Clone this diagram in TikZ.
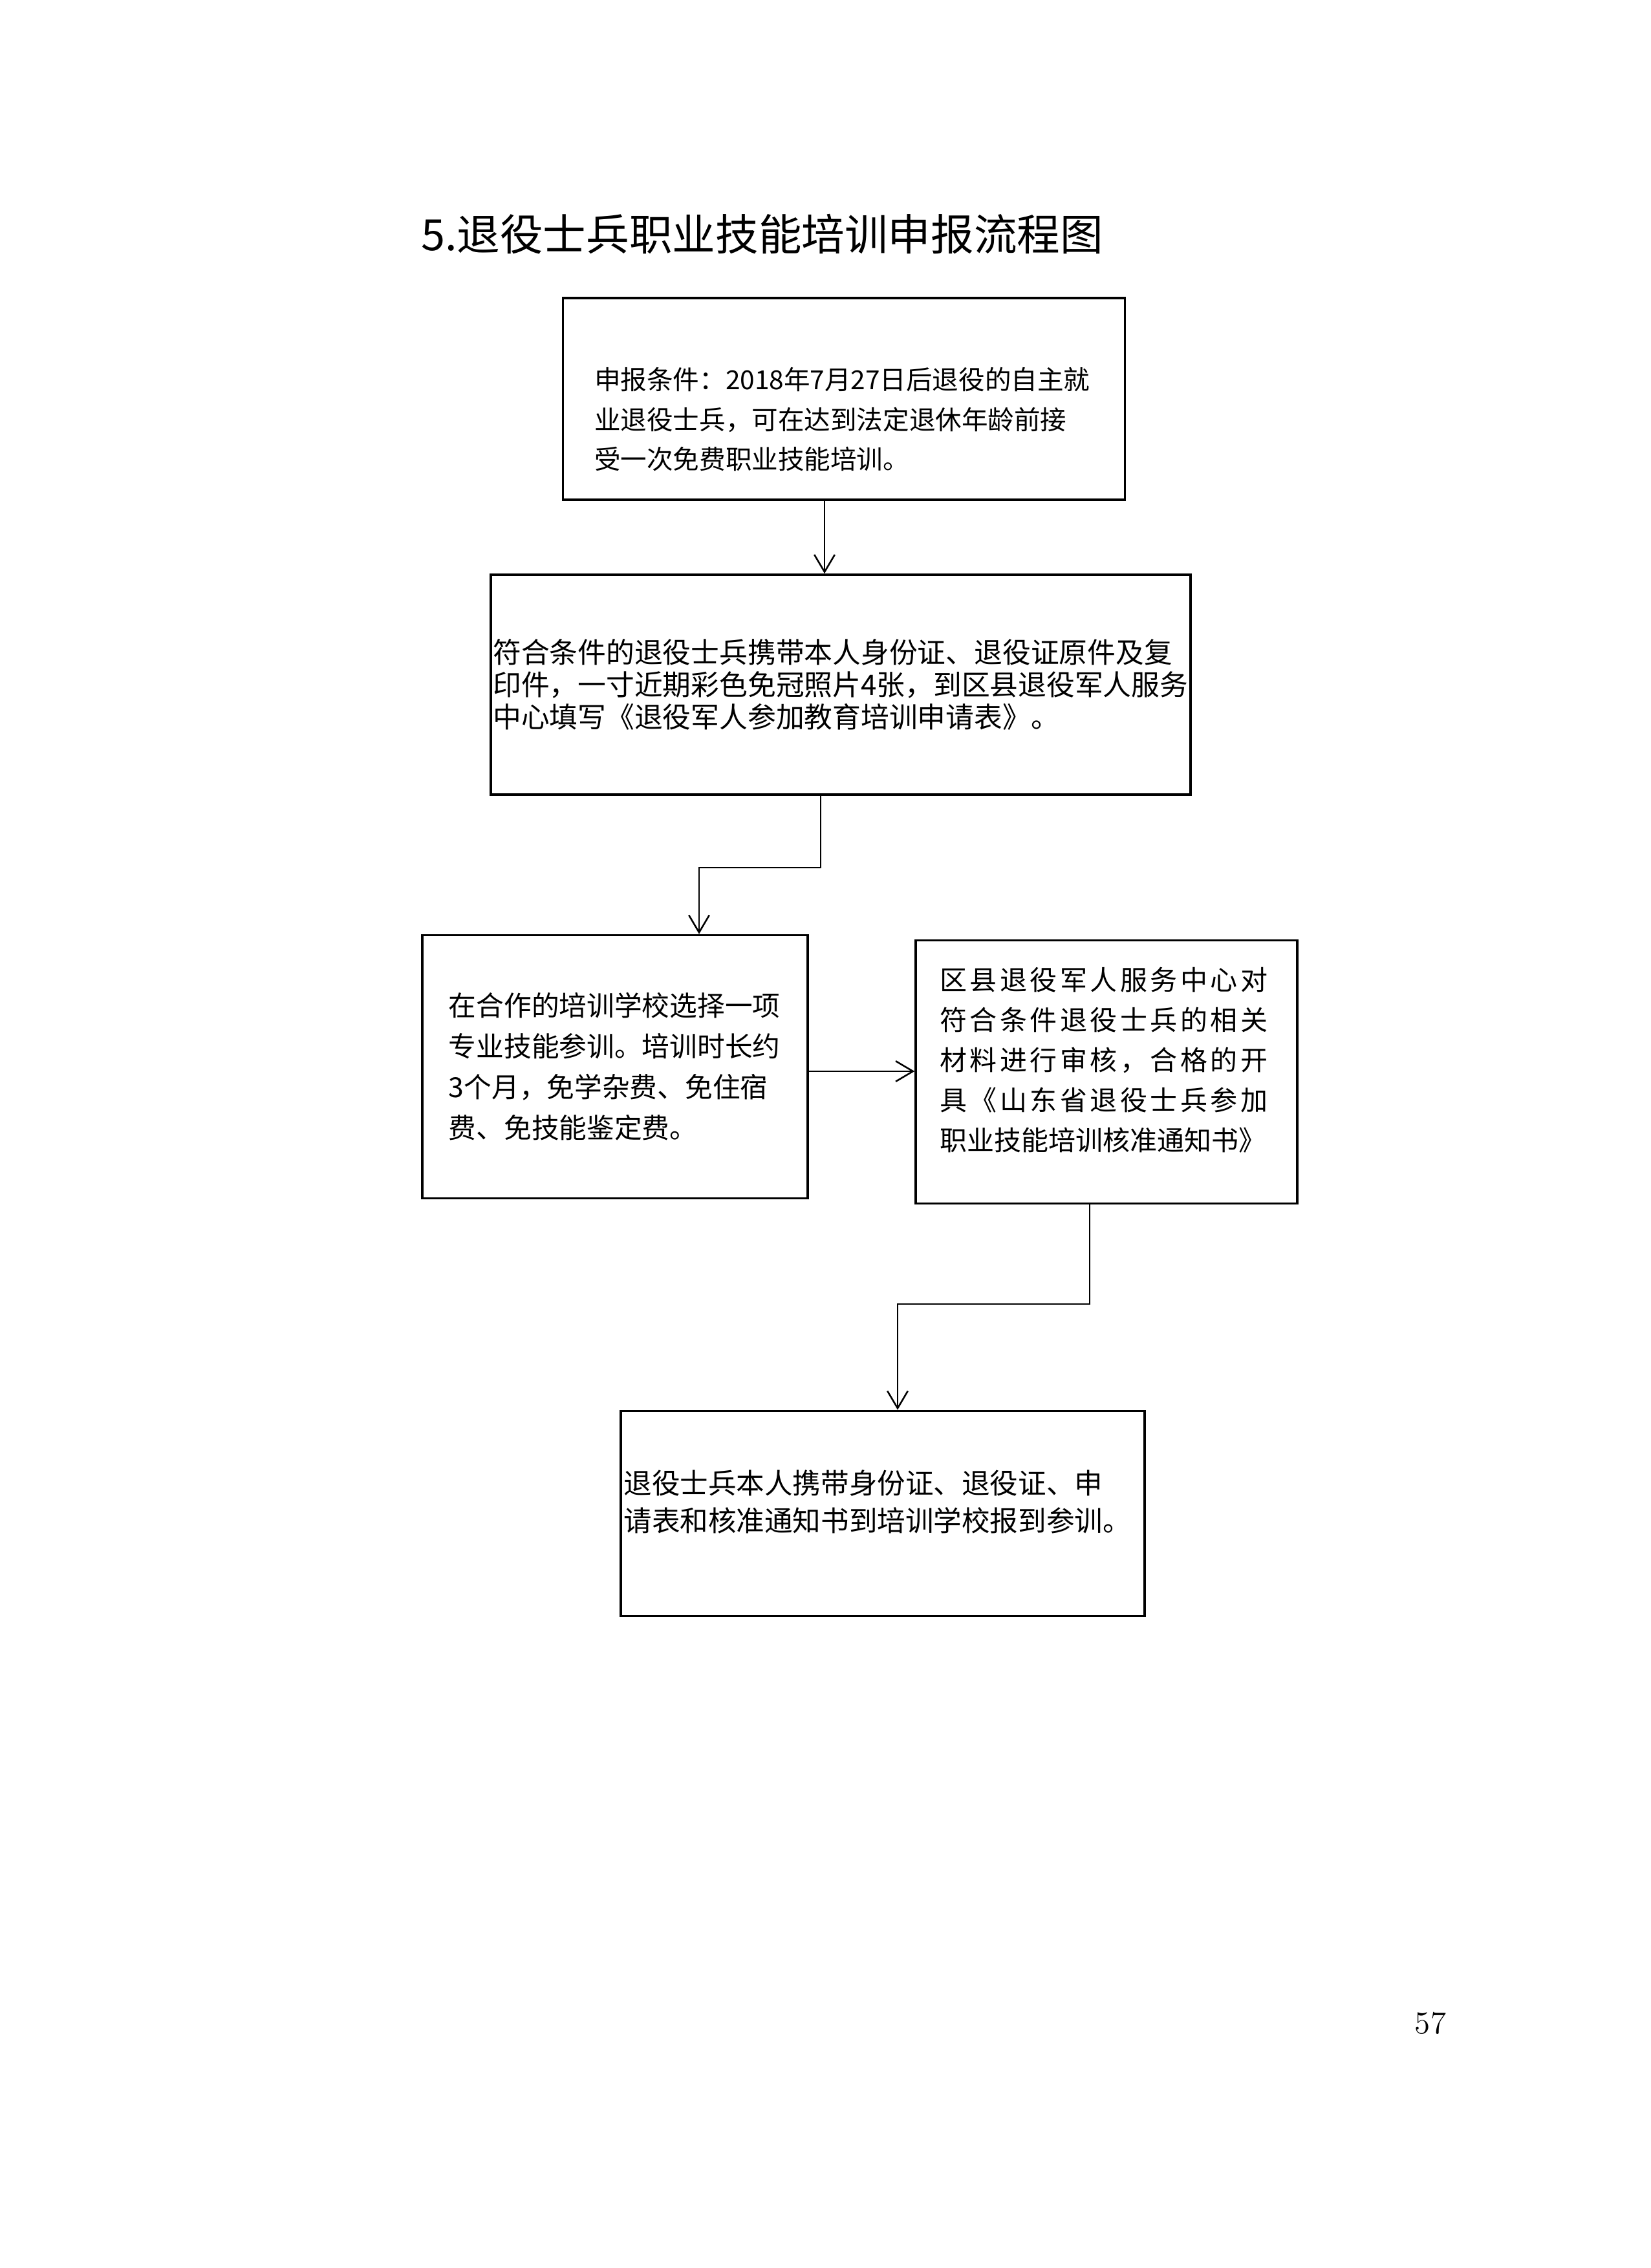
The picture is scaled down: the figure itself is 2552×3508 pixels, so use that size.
\documentclass[tikz,border=0pt]{standalone}
\usepackage{fontspec}
\newfontfamily\cjk{Noto Sans CJK SC}
\newfontfamily\cjkwide{Noto Sans CJK SC}[LetterSpace=10.7]
\usetikzlibrary{arrows.meta}

\begin{document}
\begin{tikzpicture}[
  x=0.08229mm, y=-0.08229mm,
  box/.style = {shape=rectangle, draw, line width=0.8pt, inner sep=0pt},
  txt/.style = {inner sep=0pt, align=left},
  arr/.style = {line width=0.6pt, -{Straight Barb[length=2.2mm,width=2.6mm]}}
  ]
  \useasboundingbox (0,0) rectangle (2552,3508);
  \node (title) [anchor=west, font=\cjk\fontsize{15.6}{18}\selectfont] at (636,362)
    {5.退役士兵职业技能培训申报流程图};

  \node (cond) [box, minimum width=71.5mm, minimum height=25.7mm] at (1305,617) {};
  \node (cond-t) [txt, text width=63.5mm, font=\cjk\fontsize{9.5}{14.4}\selectfont] at (1305,649)
    {申报条件：2018年7月27日后退役的自主就\\业退役士兵，可在达到法定退休年龄前接\\受一次免费职业技能培训。};

  \node (apply) [box, minimum width=89.05mm, minimum height=28mm] at (1300,1059) {};
  \node (apply-t) [txt, text width=88.5mm, font=\cjk\fontsize{10.25}{11.8}\selectfont] at (1300,1059)
    {符合条件的退役士兵携带本人身份证、退役证原件及复\\印件，一寸近期彩色免冠照片4张，到区县退役军人服务\\中心填写《退役军人参加教育培训申请表》。};

  \node (school) [box, minimum width=49.05mm, minimum height=33.5mm] at (951,1650) {};
  \node (school-t) [txt, text width=42.3mm, font=\cjk\fontsize{10}{14.75}\selectfont] at (951,1650)
    {在合作的培训学校选择一项\\专业技能参训。培训时长约\\3个月，免学杂费、免住宿\\费、免技能鉴定费。};

  \node (review) [box, minimum width=48.55mm, minimum height=33.5mm] at (1711,1658) {};
  \node (review-t) [txt, text width=42.4mm, font=\cjk\fontsize{9.83}{14.5}\selectfont] at (1711,1640)
    {{\cjkwide 区县退役军人服务中心对}\\{\cjkwide 符合条件退役士兵的相关}\\{\cjkwide 材料进行审核，合格的开}\\{\cjkwide 具《山东省退役士兵参加}\\职业技能培训核准通知书》};

  \node (report) [box, minimum width=66.65mm, minimum height=26.1mm] at (1365,2341) {};
  \node (report-t) [txt, text width=65.9mm, font=\cjk\fontsize{10.2}{13.6}\selectfont] at (1365,2323)
    {退役士兵本人携带身份证、退役证、申\\请表和核准通知书到培训学校报到参训。};

  \node (pageno) [font=\fontsize{11.5}{14}\selectfont] at (2212,3129) {57};

  \coordinate (k0) at (1275,0);
  \draw[arr] (cond.south -| k0) -- (apply.north -| k0);
  \coordinate (k1) at (1269,1342);
  \coordinate (k2) at (1081,1342);
  \draw[arr] (apply.south -| k1) -- (k1) -- (k2) -- (k2 |- school.north);
  \coordinate (k3) at (0,1657);
  \draw[arr] (school.east |- k3) -- (review.west |- k3);
  \coordinate (k4) at (1685,2017);
  \coordinate (k5) at (1388,2017);
  \draw[arr] (review.south -| k4) -- (k4) -- (k5) -- (k5 |- report.north);
\end{tikzpicture}
\end{document}
